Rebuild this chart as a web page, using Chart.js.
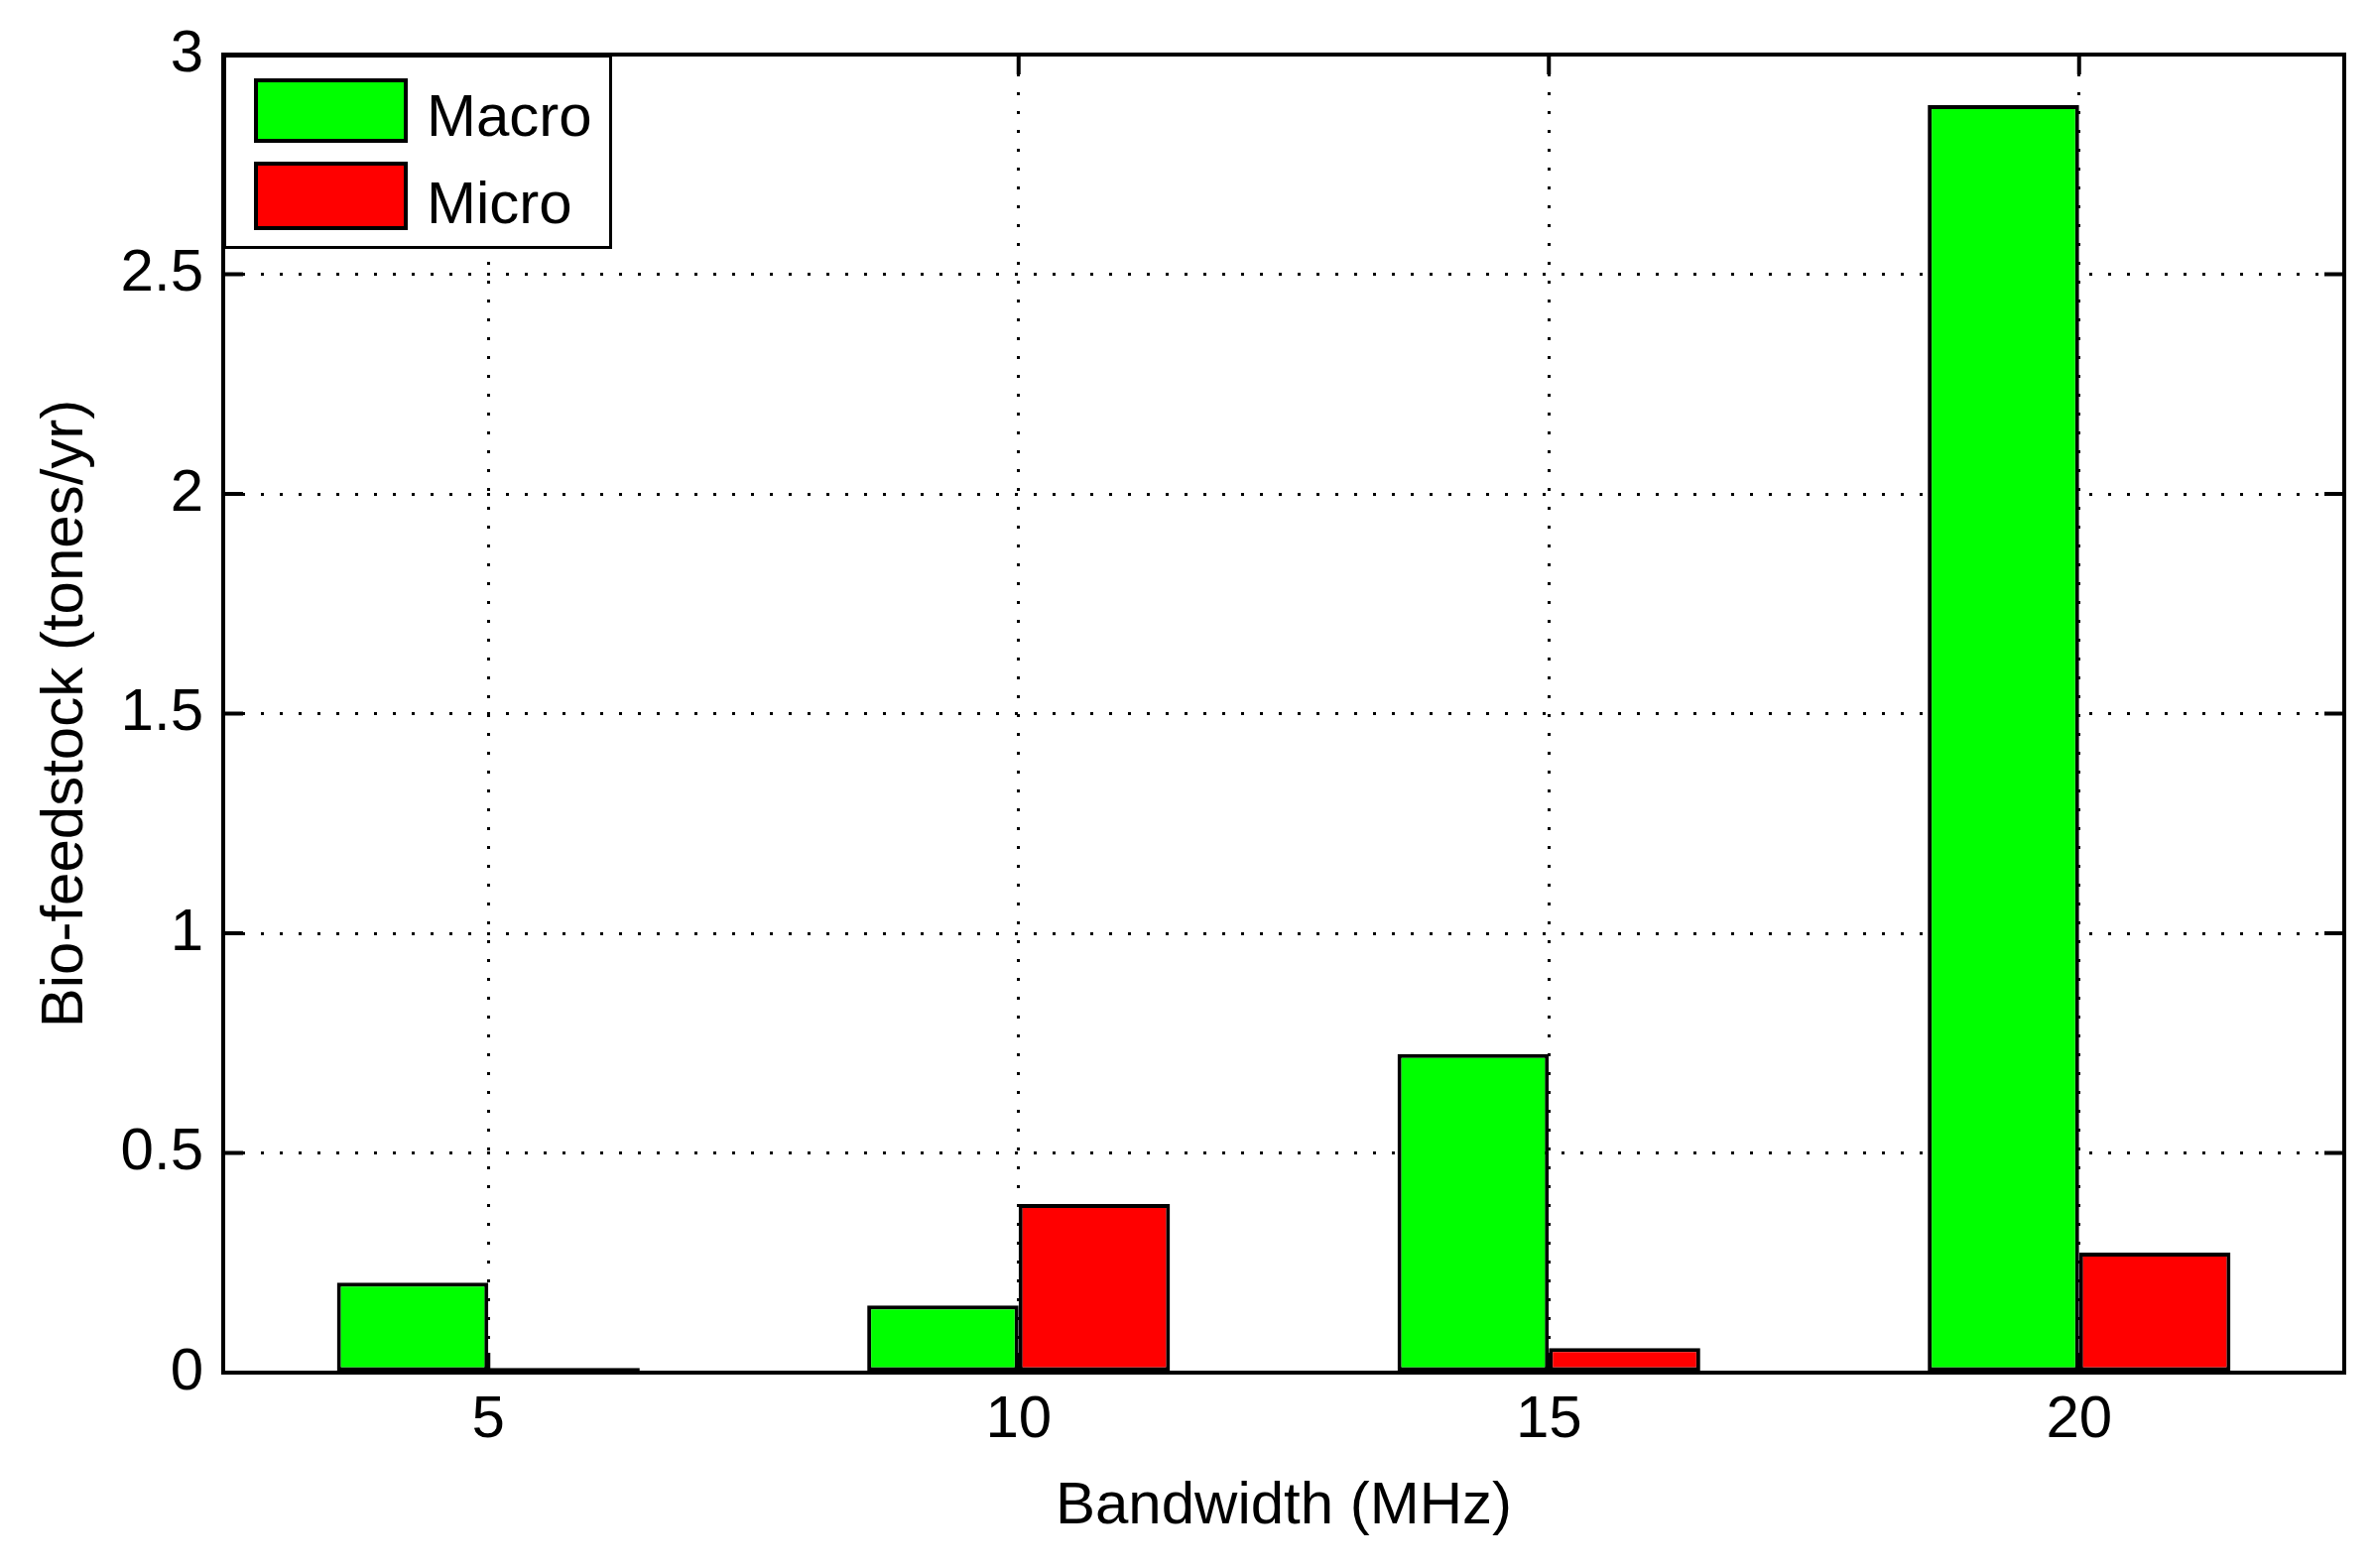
<!DOCTYPE html>
<html><head><meta charset="utf-8">
<script src="https://cdn.jsdelivr.net/npm/chart.js@4.4.1/dist/chart.umd.min.js"></script>
<style>html,body{margin:0;padding:0;background:#fff;} canvas{display:block;}</style>
</head><body>
<canvas id="c" width="2394" height="1581"></canvas>
<script>
const categories = ['5', '10', '15', '20'];
const macroValues = [0.205, 0.153, 0.725, 2.885];
const microValues = [0.011, 0.384, 0.056, 0.273];
const seriesNames = ['Macro', 'Micro'];
const seriesColors = ['#00ff00', '#ff0000'];
const yTickValues = [0, 0.5, 1, 1.5, 2, 2.5, 3];
const yTickLabels = ['0', '0.5', '1', '1.5', '2', '2.5', '3'];
const xTitle = 'Bandwidth (MHz)';
const yTitle = 'Bio-feedstock (tones/yr)';

const FONT = "'Liberation Sans', Arial, sans-serif";
const FSIZE = 60;

const framePlugin = {
  id: 'frame',
  afterDatasetsDraw(chart) {
    const {ctx, chartArea: a, scales: {x, y}} = chart;
    ctx.save();
    ctx.strokeStyle = '#000';
    ctx.lineWidth = 4;
    ctx.setLineDash([]);
    const L = 20;
    ctx.beginPath();
    yTickValues.forEach(v => {
      const py = y.getPixelForValue(v);
      ctx.moveTo(a.left, py); ctx.lineTo(a.left + L, py);
      ctx.moveTo(a.right, py); ctx.lineTo(a.right - L, py);
    });
    categories.forEach((c, i) => {
      const px = x.getPixelForValue(i);
      ctx.moveTo(px, a.bottom); ctx.lineTo(px, a.bottom - L);
      ctx.moveTo(px, a.top); ctx.lineTo(px, a.top + L);
    });
    ctx.stroke();
    ctx.strokeRect(a.left, a.top, a.right - a.left, a.bottom - a.top);
    ctx.restore();
  },
  afterDraw(chart) {
    const {ctx, chartArea: a} = chart;
    ctx.save();
    const bx = a.left, by = a.top, bw = 392, bh = 196;
    ctx.fillStyle = '#fff';
    ctx.fillRect(bx, by, bw, bh);
    ctx.strokeStyle = '#000';
    ctx.lineWidth = 3;
    ctx.strokeRect(bx + 1.5, by + 1.5, bw - 3, bh - 3);
    ctx.lineWidth = 4;
    ctx.beginPath();
    ctx.moveTo(bx, by + bh); ctx.lineTo(bx, by); ctx.lineTo(bx + bw, by);
    ctx.stroke();
    const ds = chart.data.datasets;
    const rows = [{sy: 24, sh: 65, base: 82}, {sy: 108, sh: 69, base: 170}];
    ds.forEach((d, i) => {
      const r = rows[i];
      ctx.fillStyle = d.backgroundColor;
      ctx.fillRect(bx + 31, by + r.sy, 155, r.sh);
      ctx.lineWidth = 4;
      ctx.strokeStyle = '#000';
      ctx.strokeRect(bx + 31 + 2, by + r.sy + 2, 155 - 4, r.sh - 4);
      ctx.fillStyle = '#000';
      ctx.font = FSIZE + 'px ' + FONT;
      ctx.textBaseline = 'alphabetic';
      ctx.textAlign = 'left';
      ctx.fillText(d.label, bx + 205, by + r.base);
    });
    ctx.restore();
  }
};

new Chart(document.getElementById('c'), {
  type: 'bar',
  data: {
    labels: categories,
    datasets: [
      {label: seriesNames[0], data: macroValues, backgroundColor: seriesColors[0], borderColor: '#000', borderWidth: 4, borderSkipped: false},
      {label: seriesNames[1], data: microValues, backgroundColor: seriesColors[1], borderColor: '#000', borderWidth: 4, borderSkipped: false}
    ]
  },
  options: {
    responsive: false,
    animation: false,
    devicePixelRatio: 1,
    datasets: {bar: {categoryPercentage: 0.571, barPercentage: 1.0}},
    layout: {padding: {top: 55, right: 31, left: 0, bottom: 0}},
    plugins: {legend: {display: false}, tooltip: {enabled: false}},
    scales: {
      x: {
        type: 'category',
        offset: true,
        grid: {offset: false, color: '#000', lineWidth: 3, drawTicks: false, borderDash: [3, 16]},
        border: {display: false, dash: [3, 16]},
        ticks: {color: '#000', font: {family: FONT, size: FSIZE, lineHeight: 1}, padding: 18, maxRotation: 0},
        title: {display: true, text: xTitle, color: '#000', font: {family: FONT, size: FSIZE, lineHeight: 1.2}, padding: {top: 0, bottom: 26}},
        afterFit(scale) { scale.height = 197; }
      },
      y: {
        min: 0, max: 3,
        afterBuildTicks(scale) { scale.ticks = yTickValues.map(v => ({value: v})); },
        grid: {color: '#000', lineWidth: 3, drawTicks: false, borderDash: [3, 16]},
        border: {display: false, dash: [3, 16]},
        ticks: {
          color: '#000', font: {family: FONT, size: FSIZE, lineHeight: 1}, padding: 20,
          callback(v) { const i = yTickValues.indexOf(v); return i >= 0 ? yTickLabels[i] : ''; }
        },
        title: {display: true, text: yTitle, color: '#000', font: {family: FONT, size: FSIZE, lineHeight: 1.2}, padding: {top: 30, bottom: 0}},
        afterFit(scale) { scale.width = 225; }
      }
    }
  },
  plugins: [framePlugin]
});
</script>
</body></html>
